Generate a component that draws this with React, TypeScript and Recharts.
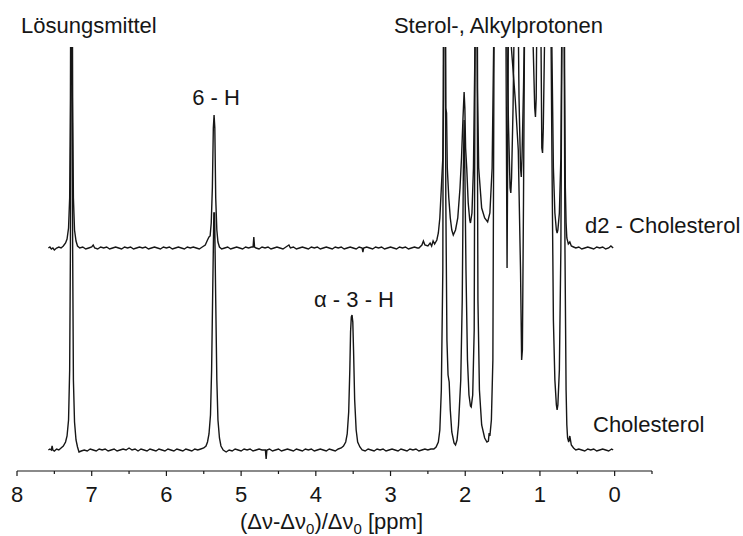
import { Line, LineChart, XAxis, YAxis } from "recharts";

// chemical shift in ppm, intensity (px above each trace's own baseline)
const CHOLESTEROL: [number, number][] = [
  [7.58, 0], [7.56, 1], [7.54, 0], [7.53, 4], [7.52, 0], [7.5, -1], [7.47, 1], [7.44, 0], [7.41, 2],
  [7.38, 4], [7.35, 8], [7.33, 14], [7.31, 30], [7.295, 80], [7.285, 200], [7.275, 500], [7.265, 500],
  [7.255, 200], [7.245, 70], [7.23, 28], [7.21, 10], [7.19, 3], [7.17, -2], [7.14, -1], [7.1, 0],
  [7.06, -1], [7.02, 1], [6.98, 0], [6.94, -1], [6.9, 1], [6.86, 0], [6.82, 1], [6.78, -1], [6.74, 0],
  [6.7, 1], [6.66, -1], [6.62, 0], [6.58, 1], [6.54, 0], [6.5, 2], [6.46, 0], [6.42, 1], [6.38, -1],
  [6.34, 1], [6.3, 0], [6.26, -1], [6.22, 1], [6.18, 0], [6.14, -1], [6.1, 1], [6.06, 0], [6.02, -1],
  [5.98, 1], [5.94, 0], [5.9, -1], [5.86, 1], [5.82, 0], [5.78, -1], [5.74, 1], [5.7, 0], [5.66, -1],
  [5.62, 1], [5.58, 0], [5.54, 1], [5.5, 2], [5.47, 4], [5.45, 8], [5.43, 16], [5.41, 35], [5.395, 80],
  [5.38, 160], [5.365, 237], [5.355, 237], [5.34, 150], [5.325, 70], [5.31, 30], [5.29, 12], [5.27, 4],
  [5.24, 0], [5.2, -2], [5.16, 0], [5.12, -1], [5.08, 1], [5.04, 0], [5.0, -1], [4.96, 1], [4.92, 0],
  [4.88, 1], [4.84, -1], [4.8, 0], [4.76, 1], [4.72, 0], [4.675, 0], [4.665, -9], [4.655, 0], [4.62, 1],
  [4.58, -1], [4.54, 0], [4.5, 1], [4.46, -1], [4.42, 0], [4.38, 1], [4.34, 0], [4.3, -1], [4.26, 1],
  [4.22, 0], [4.18, -1], [4.14, 1], [4.1, 0], [4.06, 1], [4.02, -1], [3.98, 0], [3.94, 1], [3.9, 0],
  [3.86, -1], [3.82, 1], [3.78, 0], [3.74, -1], [3.7, 1], [3.66, 2], [3.63, 4], [3.6, 8], [3.58, 16],
  [3.56, 38], [3.545, 80], [3.535, 118], [3.525, 133], [3.515, 135], [3.505, 128], [3.495, 100],
  [3.48, 50], [3.46, 20], [3.44, 8], [3.41, 3], [3.38, 0], [3.34, -1], [3.3, 1], [3.26, 0], [3.22, -1],
  [3.18, 1], [3.14, 0], [3.1, 1], [3.06, -1], [3.02, 0], [2.98, 1], [2.94, 0], [2.9, -1], [2.86, 1],
  [2.82, 0], [2.78, -1], [2.74, 1], [2.7, 0], [2.66, 1], [2.62, -1], [2.58, 0], [2.54, 1], [2.5, 0],
  [2.46, 1], [2.42, 1], [2.39, 3], [2.36, 8], [2.34, 20], [2.32, 60], [2.3, 180], [2.29, 500],
  [2.27, 500], [2.26, 250], [2.245, 110], [2.23, 75], [2.215, 68], [2.2, 40], [2.18, 18], [2.15, 7],
  [2.13, 5], [2.11, 10], [2.09, 25], [2.06, 70], [2.04, 150], [2.025, 280], [2.015, 330], [2.005, 280],
  [1.99, 180], [1.97, 90], [1.95, 55], [1.93, 44], [1.92, 43], [1.9, 55], [1.88, 120], [1.865, 500],
  [1.845, 500], [1.83, 150], [1.81, 60], [1.78, 25], [1.74, 12], [1.71, 8], [1.69, 9], [1.68, 17],
  [1.67, 14], [1.65, 30], [1.63, 90], [1.61, 500], [1.58, 500], [1.55, 450], [1.5, 420], [1.46, 500],
  [1.445, 250], [1.44, 182], [1.435, 250], [1.42, 450], [1.38, 400], [1.33, 350], [1.29, 300],
  [1.26, 180], [1.245, 90], [1.235, 100], [1.22, 250], [1.2, 500], [1.1, 480], [1.0, 500], [0.9, 450],
  [0.86, 500], [0.84, 300], [0.82, 130], [0.8, 70], [0.78, 45], [0.77, 40], [0.76, 45], [0.74, 80],
  [0.72, 200], [0.7, 500], [0.68, 500], [0.665, 200], [0.65, 60], [0.64, 25], [0.63, 12], [0.615, 8],
  [0.6, 14], [0.58, 5], [0.55, 2], [0.52, 0], [0.48, 1], [0.44, 0], [0.4, -1], [0.36, 1], [0.32, 0],
  [0.28, 1], [0.24, -1], [0.2, 0], [0.16, 1], [0.12, 0], [0.08, -1], [0.04, 1], [0.02, 0],
];

const D2_CHOLESTEROL: [number, number][] = [
  [7.58, 0], [7.56, 1], [7.54, -1], [7.52, 0], [7.5, -2], [7.47, 0], [7.44, 1], [7.41, 0], [7.38, 2],
  [7.35, 5], [7.33, 9], [7.31, 20], [7.295, 50], [7.285, 150], [7.275, 400], [7.265, 400], [7.255, 150],
  [7.245, 50], [7.23, 18], [7.21, 7], [7.19, 2], [7.16, 0], [7.12, 1], [7.08, -1], [7.04, 0], [7.0, 1],
  [6.98, 3], [6.96, 0], [6.92, -1], [6.88, 1], [6.84, 0], [6.8, 1], [6.76, -1], [6.72, 0], [6.68, 1],
  [6.64, 0], [6.6, -1], [6.56, 1], [6.52, 0], [6.48, 1], [6.44, -1], [6.4, 0], [6.36, 1], [6.32, 0],
  [6.28, 1], [6.24, -1], [6.2, 0], [6.16, 1], [6.12, 0], [6.08, -1], [6.04, 1], [6.0, 0], [5.96, 1],
  [5.92, -1], [5.88, 0], [5.84, 1], [5.8, 0], [5.76, -1], [5.72, 1], [5.68, 0], [5.64, 1], [5.6, 0],
  [5.56, -1], [5.52, 1], [5.48, 3], [5.45, 8], [5.43, 11], [5.415, 12], [5.4, 25], [5.385, 60],
  [5.372, 120], [5.362, 133], [5.352, 120], [5.34, 50], [5.325, 18], [5.31, 6], [5.29, 1], [5.26, -1],
  [5.22, 0], [5.18, 1], [5.14, -1], [5.1, 0], [5.06, 1], [5.02, 0], [4.98, -1], [4.94, 1], [4.9, 0],
  [4.86, 1], [4.84, 1], [4.83, 11], [4.82, 1], [4.8, 0], [4.76, -1], [4.72, 1], [4.68, 0], [4.64, 1],
  [4.6, -1], [4.56, 0], [4.52, 1], [4.48, 0], [4.44, -1], [4.4, 1], [4.36, 3], [4.34, 0], [4.3, 1],
  [4.26, -1], [4.22, 0], [4.18, 1], [4.14, 0], [4.1, -1], [4.06, 1], [4.02, 0], [3.98, 1], [3.94, -1],
  [3.9, 0], [3.86, 1], [3.82, 0], [3.78, -1], [3.74, 1], [3.7, 0], [3.66, 1], [3.62, -1], [3.58, 0],
  [3.54, 1], [3.5, 0], [3.46, -1], [3.42, 1], [3.38, 0], [3.37, -4], [3.36, 0], [3.32, 1], [3.28, 0],
  [3.24, -1], [3.2, 1], [3.16, 0], [3.12, 1], [3.08, -1], [3.04, 0], [3.0, 1], [2.96, 0], [2.92, -1],
  [2.88, 1], [2.84, 0], [2.8, 1], [2.76, -1], [2.72, 0], [2.68, 1], [2.64, 0], [2.62, 0], [2.58, 3],
  [2.56, 7], [2.54, 3], [2.5, 2], [2.47, 5], [2.45, 2], [2.43, 7], [2.41, 4], [2.38, 8], [2.36, 15],
  [2.34, 30], [2.32, 60], [2.31, 75], [2.3, 90], [2.29, 150], [2.28, 400], [2.27, 400], [2.26, 140],
  [2.25, 135], [2.24, 80], [2.22, 50], [2.2, 30], [2.18, 18], [2.16, 13], [2.13, 18], [2.1, 30],
  [2.07, 60], [2.05, 90], [2.04, 110], [2.03, 130], [2.015, 156], [2.005, 140], [1.995, 100],
  [1.98, 80], [1.96, 45], [1.94, 28], [1.93, 25], [1.91, 35], [1.89, 80], [1.87, 200], [1.86, 400],
  [1.845, 400], [1.835, 160], [1.82, 80], [1.78, 40], [1.74, 30], [1.7, 26], [1.67, 35], [1.64, 80],
  [1.62, 200], [1.605, 400], [1.59, 400], [1.575, 300], [1.55, 260], [1.52, 280], [1.5, 320],
  [1.47, 400], [1.455, 400], [1.44, 200], [1.42, 120], [1.4, 60], [1.39, 55], [1.38, 70], [1.36, 140],
  [1.34, 250], [1.32, 400], [1.3, 300], [1.28, 150], [1.26, 80], [1.25, 71], [1.24, 90], [1.22, 160],
  [1.19, 300], [1.17, 420], [1.15, 300], [1.12, 250], [1.09, 200], [1.07, 140], [1.06, 131],
  [1.05, 150], [1.03, 350], [1.01, 400], [0.99, 250], [0.975, 100], [0.965, 95], [0.955, 120],
  [0.93, 250], [0.89, 400], [0.86, 420], [0.84, 200], [0.82, 80], [0.8, 35], [0.78, 18], [0.77, 15],
  [0.76, 18], [0.74, 35], [0.72, 90], [0.705, 250], [0.69, 420], [0.68, 400], [0.67, 180], [0.66, 60],
  [0.65, 25], [0.64, 10], [0.62, 4], [0.6, 6], [0.58, 2], [0.55, 1], [0.52, 0], [0.48, 1], [0.44, -1],
  [0.4, 0], [0.36, 1], [0.32, 0], [0.28, -1], [0.24, 1], [0.2, 0], [0.16, 1], [0.12, -1], [0.08, 0],
  [0.05, 2], [0.02, 0],
];

// stacked-plot offsets (same units as intensities)
const CHOLESTEROL_OFFSET = 21;
const D2_OFFSET = 223;

const PPM_TICKS = [8, 7.5, 7, 6.5, 6, 5.5, 5, 4.5, 4, 3.5, 3, 2.5, 2, 1.5, 1, 0.5, 0, -0.5];

const FONT = "'Liberation Sans', Arial, Helvetica, sans-serif";
const INK = "#161616";

const cholData = CHOLESTEROL.map(([ppm, v]) => ({ ppm, y: v + CHOLESTEROL_OFFSET }));
const d2Data = D2_CHOLESTEROL.map(([ppm, v]) => ({ ppm, y: v + D2_OFFSET }));

function PpmTick(props: any) {
  const { x, y, payload } = props;
  const major = Number.isInteger(payload.value);
  return (
    <g>
      <line x1={x} x2={x} y1={y} y2={y + (major ? 5 : 3)} stroke={INK} strokeWidth={1.2} />
      {major && (
        <text x={x} y={y + 31} textAnchor="middle" fontSize={22} fill={INK} fontFamily={FONT}>
          {payload.value}
        </text>
      )}
    </g>
  );
}

export default function App() {
  return (
    <div
      style={{
        position: "absolute",
        left: 0,
        top: 0,
        width: 743,
        height: 536,
        background: "#fff",
      }}
    >
      <LineChart width={743} height={536} margin={{ top: 47, right: 91, left: 17, bottom: 0 }}>
        <XAxis
          type="number"
          dataKey="ppm"
          domain={[-0.5, 8]}
          reversed
          allowDataOverflow
          ticks={PPM_TICKS}
          interval={0}
          tick={<PpmTick />}
          tickLine={false}
          tickSize={0}
          tickMargin={0}
          axisLine={{ stroke: INK, strokeWidth: 1.2 }}
          height={65}
        />
        <YAxis type="number" hide domain={[0, 424]} allowDataOverflow />
        <Line
          data={cholData}
          dataKey="y"
          type="linear"
          stroke={INK}
          strokeWidth={1.4}
          dot={false}
          activeDot={false}
          isAnimationActive={false}
        />
        <Line
          data={d2Data}
          dataKey="y"
          type="linear"
          stroke={INK}
          strokeWidth={1.4}
          dot={false}
          activeDot={false}
          isAnimationActive={false}
        />
      </LineChart>
      <svg
        width={743}
        height={536}
        style={{ position: "absolute", left: 0, top: 0, pointerEvents: "none" }}
        fontFamily={FONT}
        fontSize={22}
        fill={INK}
      >
        <text x={21} y={33}>Lösungsmittel</text>
        <text x={603} y={33} textAnchor="end">Sterol-, Alkylprotonen</text>
        <text x={216} y={105} textAnchor="middle">6 - H</text>
        <text x={354} y={307} textAnchor="middle">α - 3 - H</text>
        <text x={585} y={233}>d2 - Cholesterol</text>
        <text x={593} y={432}>Cholesterol</text>
        <text x={240} y={529}>
          (Δν-Δν<tspan fontSize={15} dy={5}>0</tspan>
          <tspan dy={-5}>)/Δν</tspan>
          <tspan fontSize={15} dy={5}>0</tspan>
          <tspan dy={-5}> [ppm]</tspan>
        </text>
      </svg>
    </div>
  );
}
